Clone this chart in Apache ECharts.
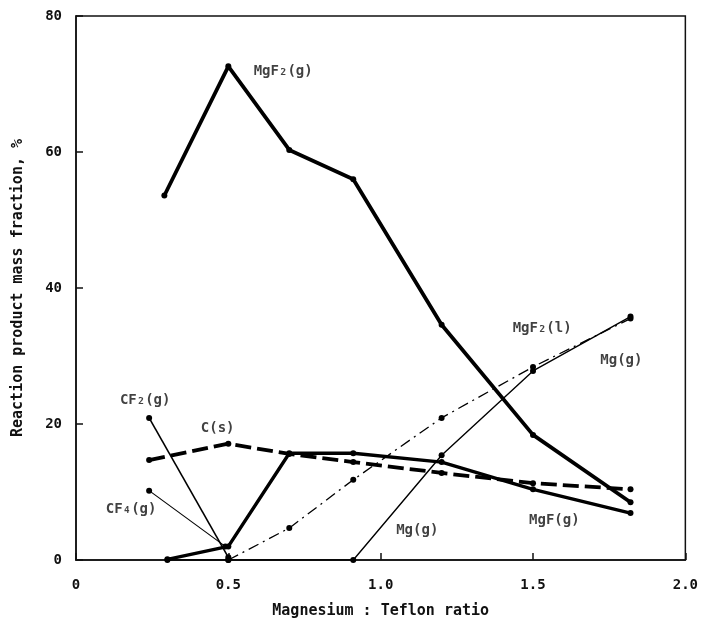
<!DOCTYPE html>
<html>
<head>
<meta charset="utf-8">
<script src="https://cdn.jsdelivr.net/npm/echarts@6/dist/echarts.min.js"></script>
<style>
html,body{margin:0;padding:0;background:#fff;}
#c{width:701px;height:626px;}
</style>
</head>
<body>
<div id="c"></div>
<script>
// Data (x = magnesium : teflon ratio, y = mass fraction %)
var mgf2g = [[0.29, 53.6], [0.5, 72.6], [0.7, 60.3], [0.91, 56.0], [1.2, 34.6], [1.5, 18.4], [1.82, 8.5]];
var mgfg  = [[0.3, 0.1], [0.5, 2.0], [0.7, 15.7], [0.91, 15.7], [1.2, 14.4], [1.5, 10.4], [1.82, 6.9]];
var cs    = [[0.24, 14.7], [0.5, 17.1], [0.7, 15.6], [0.91, 14.4], [1.2, 12.8], [1.5, 11.3], [1.82, 10.4]];
var mgf2l = [[0.5, 0.0], [0.7, 4.7], [0.91, 11.8], [1.2, 20.9], [1.5, 28.4], [1.82, 35.5]];
var mgg   = [[0.3, 0.0], [0.5, 0.0], [0.91, 0.0], [1.2, 15.4], [1.5, 27.8], [1.82, 35.8]];
var cf2g  = [[0.24, 20.9], [0.5, 0.4]];
var cf4g  = [[0.24, 10.2], [0.49, 2.0]];
var xTicks = [0, 0.5, 1.0, 1.5, 2.0];
var yTicks = [0, 20, 40, 60, 80];
var annotations = [
  [0.68, 71.8, 'MgF₂(g)'],
  [1.53, 34.0, 'MgF₂(l)'],
  [1.79, 29.3, 'Mg(g)'],
  [0.227, 23.5, 'CF₂(g)'],
  [0.465, 19.4, 'C(s)'],
  [0.181, 7.4, 'CF₄(g)'],
  [1.12, 4.4, 'Mg(g)'],
  [1.57, 5.9, 'MgF(g)']
];

var FONT = 'DejaVu Sans Mono';
var chart = echarts.init(document.getElementById('c'));
function line(name, data, width, type, sym) {
  return {
    name: name, type: 'line', data: data,
    symbol: 'circle', symbolSize: sym,
    itemStyle: {color: '#000'},
    lineStyle: {color: '#000', width: width, type: type},
    animation: false, z: 3
  };
}
chart.setOption({
  animation: false,
  backgroundColor: '#fff',
  grid: {left: 76, right: 15, top: 16, bottom: 66, show: true, borderColor: '#111', borderWidth: 1.5, backgroundColor: 'transparent'},
  xAxis: {
    type: 'value', min: 0, max: 2, interval: 0.5,
    name: 'Magnesium : Teflon ratio', nameLocation: 'middle', nameGap: 44,
    nameTextStyle: {fontFamily: FONT, fontWeight: 'bold', fontSize: 15, color: '#111'},
    axisLine: {lineStyle: {color: '#111', width: 1.5}},
    axisTick: {inside: true, length: 7, lineStyle: {color: '#111', width: 1.5}},
    splitLine: {show: false},
    axisLabel: {fontFamily: FONT, fontWeight: 'bold', fontSize: 14, color: '#111', margin: 18,
      formatter: function (v) { return v === 0 ? '0' : v.toFixed(1); }}
  },
  yAxis: {
    type: 'value', min: 0, max: 80, interval: 20,
    name: 'Reaction product mass fraction, %', nameLocation: 'middle', nameGap: 50,
    nameTextStyle: {fontFamily: FONT, fontWeight: 'bold', fontSize: 15, color: '#111'},
    axisLine: {lineStyle: {color: '#111', width: 1.5}},
    axisTick: {inside: true, length: 7, lineStyle: {color: '#111', width: 1.5}},
    splitLine: {show: false},
    axisLabel: {fontFamily: FONT, fontWeight: 'bold', fontSize: 14, color: '#111', margin: 14}
  },
  series: [
    line('MgF2(g)', mgf2g, 3.8, 'solid', 6),
    line('MgF(g)', mgfg, 3.4, 'solid', 6),
    line('C(s)', cs, 3.8, [16, 6], 6),
    line('MgF2(l)', mgf2l, 1.3, [11, 5, 2, 5], 6),
    line('Mg(g)', mgg, 1.4, 'solid', 6),
    line('CF2(g)', cf2g, 1.6, 'solid', 6),
    line('CF4(g)', cf4g, 1.1, 'solid', 6),
    {
      type: 'scatter', data: annotations, symbolSize: 0, silent: true, z: 5,
      label: {show: true, position: 'inside', formatter: function (p) { return p.data[2]; },
        fontFamily: FONT, fontWeight: 'bold', fontSize: 14, color: '#111'}
    }
  ]
});
</script>
</body>
</html>
